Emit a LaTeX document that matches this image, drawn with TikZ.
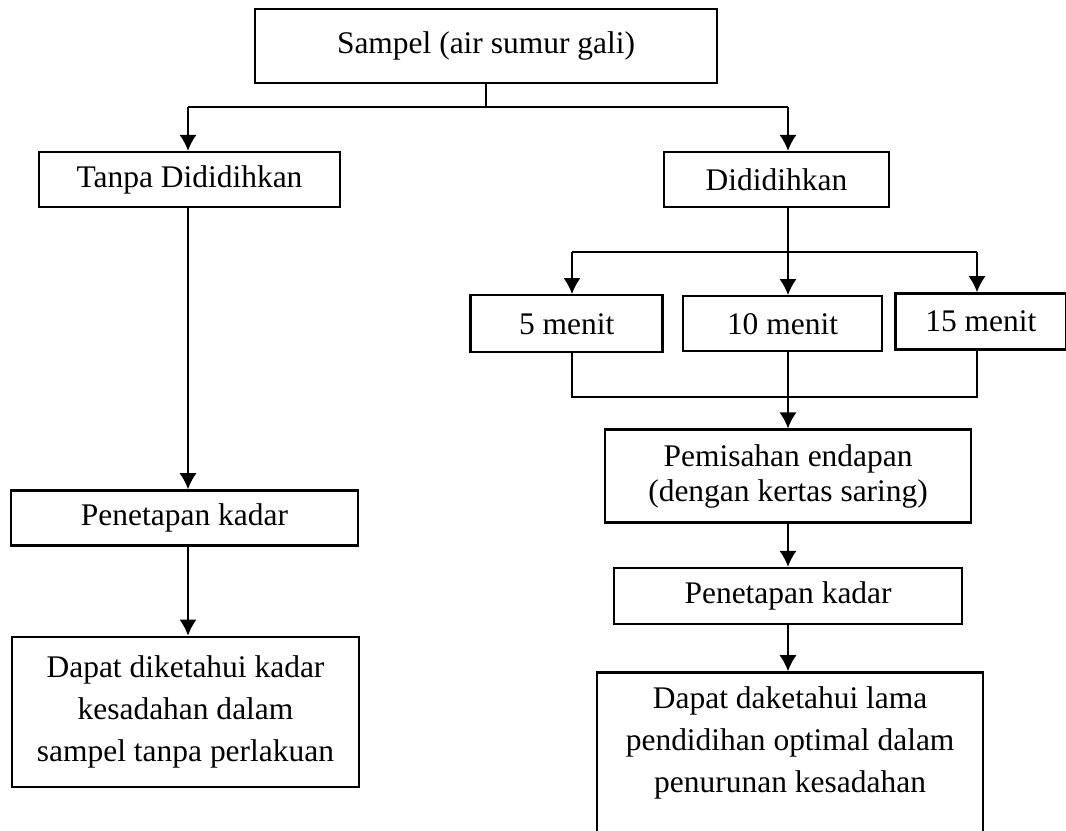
\documentclass[tikz,border=0pt]{standalone}
\usepackage{fontspec}
\setmainfont{Liberation Serif}
\usetikzlibrary{positioning,arrows.meta}

\begin{document}
\begin{tikzpicture}[
      x=0.375pt, y=-0.375pt,
      kotak/.style={draw=black, line width=0.9pt, fill=white, align=center, inner sep=2pt},
      font=\fontsize{11.8}{15.75}\selectfont,
      line width=0.65pt, >={Latex[length=6pt,width=6.4pt]}
      ]
      \useasboundingbox (0,0) rectangle (1066,831);

      \node[kotak, minimum width=173.25pt, minimum height=27.75pt] (sampel) at (486,46) {Sampel (air sumur gali)};
      \node[kotak, minimum width=112.9pt, minimum height=20.6pt] (tanpa) at (189.5,179.5) {Tanpa Dididihkan};
      \node[kotak, minimum width=84.4pt, minimum height=20.6pt] (didih) at (776.5,179.5) {Dididihkan};
      \node[kotak, minimum width=74.6pt, minimum height=20.6pt, below=32.6pt of didih, xshift=2.25pt] (m10) {10 menit};
      \node[kotak, minimum width=72pt, minimum height=21.4pt, left=6.75pt of m10] (m5) {5 menit};
      \node[kotak, minimum width=64.1pt, minimum height=21pt, right=4.1pt of m10, yshift=0.9pt] (m15) {15 menit};
      \node[kotak, minimum width=137.25pt, minimum height=34.9pt, below=28.5pt of m10, xshift=2.1pt,
            font=\fontsize{11.8}{13.2}\selectfont] (pisah) {Pemisahan endapan\\(dengan kertas saring)};
      \node[kotak, minimum width=130.5pt, minimum height=21pt, below=16.1pt of pisah] (tetap2) {Penetapan kadar};
      \node[kotak, minimum width=144.75pt, minimum height=70.5pt, below=17.25pt of tetap2, xshift=0.75pt] (hasil2)
            {Dapat daketahui lama\\pendidihan optimal dalam\\penurunan kesadahan\\\strut};
      \node[kotak, minimum width=130.1pt, minimum height=20.6pt, below=105.4pt of tanpa, xshift=-1.9pt] (tetap1) {Penetapan kadar};
      \node[kotak, minimum width=130.1pt, minimum height=56.25pt, below=33.4pt of tetap1, xshift=0.4pt] (hasil1)
            {Dapat diketahui kadar\\kesadahan dalam\\sampel tanpa perlakuan};

      % titik cabang
      \coordinate (cabang) at (486,107);
      \coordinate (kiri) at (188,107);
      \coordinate (kanan) at (788,107);
      \coordinate (c5) at (572,252);
      \coordinate (c15) at (977,252);
      \coordinate (g5) at (572,397);
      \coordinate (g15) at (977,397);

      % hubungkan
      \draw (sampel.south) -- (cabang);
      \draw (kiri) -- (kanan);
      \draw[->] (kiri) -- (kiri |- tanpa.north);
      \draw[->] (kanan) -- (kanan |- didih.north);
      \draw[->] (kiri |- tanpa.south) -- (kiri |- tetap1.north);
      \draw[->] (kiri |- tetap1.south) -- (kiri |- hasil1.north);
      \draw[->] (kanan |- didih.south) -- (kanan |- m10.north);
      \draw (c5) -- (c15);
      \draw[->] (c5) -- (c5 |- m5.north);
      \draw[->] (c15) -- (c15 |- m15.north);
      \draw (c5 |- m5.south) -- (g5) -- (g15) -- (c15 |- m15.south);
      \draw[->] (kanan |- m10.south) -- (kanan |- pisah.north);
      \draw[->] (kanan |- pisah.south) -- (kanan |- tetap2.north);
      \draw[->] (kanan |- tetap2.south) -- (kanan |- hasil2.north);
\end{tikzpicture}
\end{document}
